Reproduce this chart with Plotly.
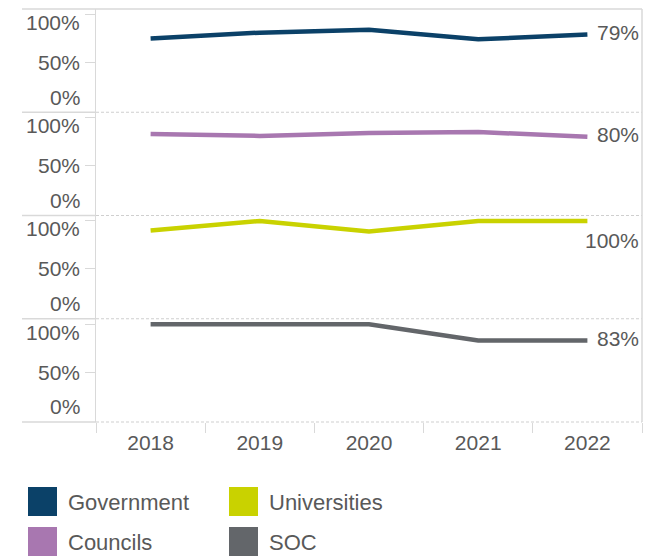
import plotly.graph_objects as go
from plotly.subplots import make_subplots

years = ["2018", "2019", "2020", "2021", "2022"]
series_names = ["Government", "Councils", "Universities", "SOC"]
government = [0.75, 0.81, 0.84, 0.74, 0.79]
councils = [0.83, 0.81, 0.84, 0.85, 0.80]
universities = [0.90, 1.00, 0.89, 1.00, 1.00]
soc = [1.00, 1.00, 1.00, 0.83, 0.83]
y_tick_values = [0.0, 0.5, 1.0]
y_tick_labels = ["0%", "50%", "100%"]

series_values = [government, councils, universities, soc]
colors = ["#0B4168", "#A877B0", "#C9D200", "#63666A"]

# the page body has an 8px margin, so the figure is offset by 8px
OFF = 8
W, H = 644, 551
ML, MR, MT, MB = 88, 10, 1, 137
PW, PH = W - ML - MR, H - MT - MB


def px_x(x):
    """reference-window pixel x -> paper x"""
    return (x - OFF - ML) / PW


def px_y(y):
    """reference-window pixel y -> paper y"""
    return (H - MB - (y - OFF)) / PH


FONT = "Liberation Sans, Arial, sans-serif"
TXT = "#595959"
GRID = "#d9d9d9"

fig = make_subplots(rows=4, cols=1, shared_xaxes=True, vertical_spacing=0)

for i, (name, vals, col) in enumerate(zip(series_names, series_values, colors)):
    r = i + 1
    fig.add_trace(
        go.Scatter(x=years, y=vals, mode="lines", name=name,
                   line=dict(color=col, width=4.5), showlegend=False),
        row=r, col=1)
    yref = "y" if r == 1 else f"y{r}"
    # y tick labels (clamped inside panel like the original)
    shifts = {0.0: 13, 0.5: 0, 1.0: -8}
    for v, lab in zip(y_tick_values, y_tick_labels):
        fig.add_annotation(x=0, xref="paper", y=v, yref=yref, text=lab,
                           showarrow=False, xanchor="right", yanchor="middle",
                           xshift=-14, yshift=shifts[v],
                           font=dict(family=FONT, size=21, color=TXT))
    # end value label
    last = vals[-1]
    fig.add_annotation(x=px_x(641), xref="paper", y=last, yref=yref,
                       text=f"{round(last * 100)}%", showarrow=False,
                       xanchor="right", yanchor="middle",
                       yshift=(-20 if last >= 0.95 else 2),
                       font=dict(family=FONT, size=21, color=TXT))

for r in range(1, 5):
    fig.update_yaxes(range=[-0.022, 1.057], tickvals=[0.5, 1.0],
                     showticklabels=False, ticks="outside", ticklen=10,
                     tickcolor=GRID, showgrid=False, zeroline=False,
                     showline=True, linecolor=GRID, linewidth=1,
                     fixedrange=True, row=r, col=1)
    fig.update_xaxes(type="category", categoryorder="array", categoryarray=years,
                     range=[-0.5, 4.5], showgrid=False, zeroline=False,
                     showline=False, fixedrange=True, row=r, col=1)
    if r < 4:
        fig.update_xaxes(showticklabels=False, ticks="", row=r, col=1)

fig.update_xaxes(tickson="boundaries", ticks="outside", ticklen=10,
                 tickcolor=GRID, showticklabels=True, ticklabelstandoff=6,
                 tickfont=dict(family=FONT, size=21, color=TXT), row=4, col=1)

shapes = []
x_left = px_x(22)
# top border
shapes.append(dict(type="line", xref="paper", yref="paper", x0=x_left, x1=1,
                   y0=1, y1=1, line=dict(color=GRID, width=1.5)))
# separators and bottom
for yb in [0.75, 0.5, 0.25, 0.0]:
    shapes.append(dict(type="line", xref="paper", yref="paper", x0=x_left, x1=0,
                       y0=yb, y1=yb, line=dict(color=GRID, width=1.5)))
    shapes.append(dict(type="line", xref="paper", yref="paper", x0=0, x1=1,
                       y0=yb, y1=yb, line=dict(color="#cfcfcf", width=1.2, dash="3px,2px")))
# right border
shapes.append(dict(type="line", xref="paper", yref="paper", x0=1, x1=1,
                   y0=0, y1=1, line=dict(color=GRID, width=1.5)))

# legend
legend_pos = [(28, 487), (28, 527), (229, 487), (229, 527)]
for (lx, ly), name, col in zip(legend_pos, series_names, colors):
    shapes.append(dict(type="rect", xref="paper", yref="paper",
                       x0=px_x(lx), x1=px_x(lx + 29), y0=px_y(ly), y1=px_y(ly + 29),
                       fillcolor=col, line=dict(width=0)))
    fig.add_annotation(x=px_x(lx + 38), xref="paper", y=px_y(ly + 15), yref="paper",
                       text=name, showarrow=False, xanchor="left", yanchor="middle",
                       font=dict(family=FONT, size=22, color=TXT))

fig.update_layout(
    width=W, height=H,
    margin=dict(l=ML, r=MR, t=MT, b=MB),
    paper_bgcolor="white", plot_bgcolor="white",
    shapes=shapes, showlegend=False,
    font=dict(family=FONT, color=TXT),
)

fig.write_html("out.html")
